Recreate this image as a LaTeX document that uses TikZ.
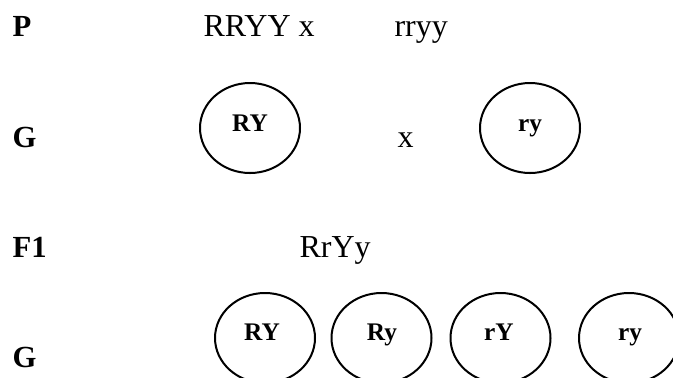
\documentclass[tikz,border=0pt]{standalone}
\usepackage{fontspec}
\setmainfont{Liberation Serif}
\usetikzlibrary{shapes.geometric}

\tikzstyle{gen} = [inner sep=0pt, anchor=base west, font=\bfseries\fontsize{11.5}{14}\selectfont]
\tikzstyle{cross} = [inner sep=0pt, anchor=base west, font=\fontsize{12}{14}\selectfont]
\tikzstyle{gamete} = [ellipse, draw, line width=0.75pt, minimum width=37.5pt, minimum height=33.75pt, inner sep=0pt]
\tikzstyle{allele} = [inner sep=0pt, anchor=base, font=\bfseries\fontsize{9.5}{12}\selectfont]

\begin{document}
\begin{tikzpicture}[x=0.375pt, y=-0.375pt]
	\clip (0,0) rectangle (673,377);
	\node[gen] (p) at (12,36) {P};
	\node[gen] (g1) at (12,147) {G};
	\node[gen] (f1) at (12,257) {F1};
	\node[gen] (g2) at (12,367) {G};
	
	\node[cross] (pa) at (203,36) {RRYY x};
	\node[cross] (pb) at (394,36) {rryy};
	\node[cross] (x) at (397,147) {x};
	\node[cross] (hy) at (299,257) {RrYy};
	
	\node[gamete] (ga) at (250,128) {};
	\node[gamete] (gb) at (530,128) {};
	\node[allele] (ta) at (250,131) {RY};
	\node[allele] (tb) at (530,131) {ry};
	
	\node[gamete] (h1) at (265,338) {};
	\node[gamete] (h2) at (381.5,338) {};
	\node[gamete] (h3) at (500.5,338) {};
	\node[gamete] (h4) at (629,338) {};
	\node[allele] (t1) at (262,340) {RY};
	\node[allele] (t2) at (382,340) {Ry};
	\node[allele] (t3) at (499,340) {rY};
	\node[allele] (t4) at (630,340) {ry};
\end{tikzpicture}
\end{document}
